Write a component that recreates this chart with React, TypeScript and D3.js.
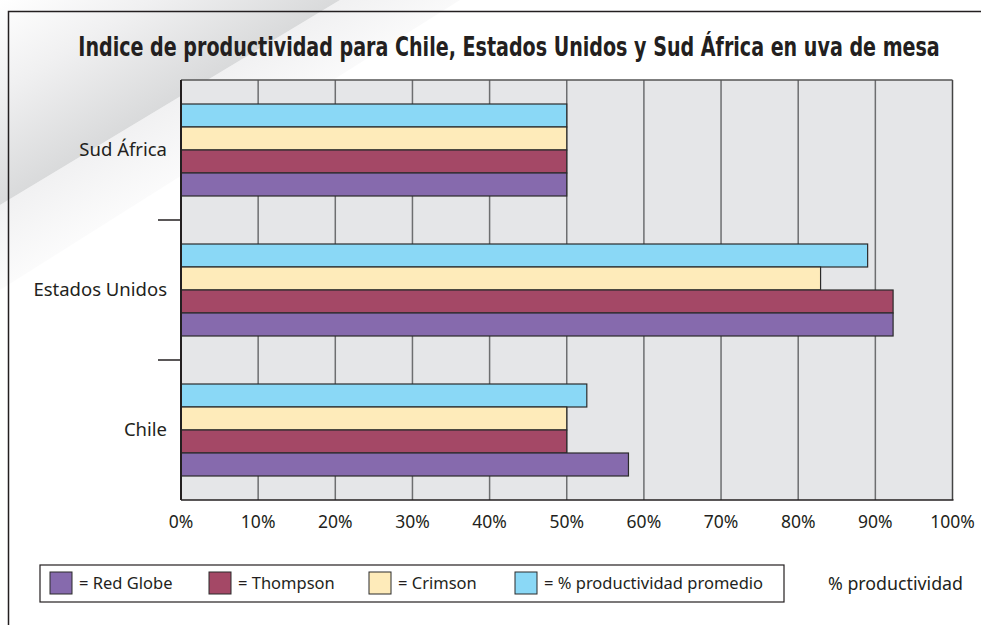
import React, { useLayoutEffect, useRef, useState } from "react";
import * as d3 from "d3";

const categories = ["Sud África", "Estados Unidos", "Chile"];
const seriesNames = ["% productividad promedio", "Crimson", "Thompson", "Red Globe"];
const redGlobe = [50, 92.3, 58];
const thompson = [50, 92.3, 50];
const crimson = [50, 82.9, 50];
const promedio = [50, 89, 52.6];
const xTicks = [0, 10, 20, 30, 40, 50, 60, 70, 80, 90, 100];
const legendItems = ["Red Globe", "Thompson", "Crimson", "% productividad promedio"];
const titleText = "Indice de productividad para Chile, Estados Unidos y Sud África en uva de mesa";

const colors: Record<string, string> = {
  "Red Globe": "#866AAD",
  Thompson: "#A44866",
  Crimson: "#FEEBBA",
  "% productividad promedio": "#8AD8F6",
};

const seriesValues: Record<string, number[]> = {
  "Red Globe": redGlobe,
  Thompson: thompson,
  Crimson: crimson,
  "% productividad promedio": promedio,
};

const W = 981;
const H = 625;
const left = 181;
const right = 952.5;
const top = 80;
const bottom = 500;
const ink = "#231F20";
const font = "'Noto Sans', 'Open Sans', sans-serif";
const titleWidth = 862;

export default function App() {
  const x = d3.scaleLinear().domain([0, 100]).range([left, right]);
  const y = d3.scaleBand<string>().domain(categories).range([top, bottom]).padding(0);
  const inner = d3
    .scaleBand<string>()
    .domain(seriesNames)
    .range([24, y.bandwidth() - 24])
    .padding(0);

  const legendX = [50, 209, 369, 515];

  const titleRef = useRef<SVGTextElement>(null);
  const [sx, setSx] = useState(1);
  useLayoutEffect(() => {
    if (titleRef.current) {
      const w = titleRef.current.getComputedTextLength();
      if (w > 0) setSx(titleWidth / w);
    }
  }, []);

  return (
    <svg
      width={W}
      height={H}
      style={{ position: "absolute", left: 0, top: 0, background: "#fff" }}
    >
      <defs>
        <linearGradient id="sheen" gradientUnits="userSpaceOnUse" x1="0" y1="0" x2="90.6" y2="150.3">
          <stop offset="0" stopColor="#ffffff" />
          <stop offset="0.45" stopColor="#f0f0f1" />
          <stop offset="1" stopColor="#d9dadb" />
        </linearGradient>
        <linearGradient id="sheen2" gradientUnits="userSpaceOnUse" x1="90.6" y1="150.3" x2="142" y2="236">
          <stop offset="0" stopColor="#f1f1f2" />
          <stop offset="1" stopColor="#ffffff" />
        </linearGradient>
      </defs>
      <rect x={0} y={0} width={W} height={H} fill="#fff" />
      <polygon points="340,0 460,0 0,290 0,205" fill="url(#sheen2)" />
      <polygon points="0,0 340,0 0,205" fill="url(#sheen)" />
      {/* frame */}
      <rect x={8.5} y={11.5} width={1100} height={800} fill="none" stroke={ink} strokeWidth={1.5} />

      {/* title */}
      <g transform={`translate(509,56) scale(${sx},1)`}>
        <text
          ref={titleRef}
          x={0}
          y={0}
          textAnchor="middle"
          fontFamily="'Liberation Sans Narrow', 'DejaVu Sans Condensed', sans-serif"
          fontWeight="bold"
          fontSize={26}
          fill={ink}
        >
          {titleText}
        </text>
      </g>

      {/* plot background */}
      <rect x={left} y={top} width={right - left} height={bottom - top} fill="#E5E6E8" />
      {xTicks.slice(1).map((t) => (
        <line
          key={t}
          x1={x(t)}
          x2={x(t)}
          y1={top}
          y2={bottom}
          stroke={t === 100 ? "#444" : "#6d6e70"}
          strokeWidth={1.5}
        />
      ))}
      <line x1={left} x2={right} y1={top} y2={top} stroke="#555" strokeWidth={1.5} />

      {/* bars */}
      {categories.map((c, ci) =>
        seriesNames.map((s) => (
          <rect
            key={c + s}
            x={x(0)}
            y={(y(c) as number) + (inner(s) as number)}
            width={x(seriesValues[s][ci]) - x(0)}
            height={inner.bandwidth()}
            fill={colors[s]}
            stroke="#2b2b2b"
            strokeWidth={1.2}
          />
        ))
      )}

      {/* axes */}
      <line x1={left} x2={left} y1={top} y2={bottom} stroke={ink} strokeWidth={2} />
      <line x1={left} x2={right + 1} y1={bottom} y2={bottom} stroke={ink} strokeWidth={1.5} />
      {categories.slice(1).map((c) => (
        <line
          key={c}
          x1={158}
          x2={left}
          y1={y(c) as number}
          y2={y(c) as number}
          stroke={ink}
          strokeWidth={1.5}
        />
      ))}

      {/* category labels */}
      {categories.map((c) => (
        <text
          key={c}
          x={167}
          y={(y(c) as number) + y.bandwidth() / 2}
          dy="0.35em"
          textAnchor="end"
          fontFamily={font}
          fontSize={18.5}
          fill={ink}
        >
          {c}
        </text>
      ))}

      {/* x tick labels */}
      {xTicks.map((t) => (
        <text
          key={t}
          x={x(t)}
          y={522}
          dy="0.35em"
          textAnchor="middle"
          fontFamily={font}
          fontSize={17.5}
          fill={ink}
        >
          {t}%
        </text>
      ))}

      {/* legend */}
      <rect x={40} y={565} width={744} height={37} fill="#fff" stroke={ink} strokeWidth={1.2} />
      {legendItems.map((s, i) => (
        <g key={s}>
          <rect
            x={legendX[i]}
            y={572}
            width={22}
            height={22}
            fill={colors[s]}
            stroke="#2b2b2b"
            strokeWidth={1}
          />
          <text
            x={legendX[i] + 29}
            y={583.5}
            dy="0.35em"
            fontFamily={font}
            fontSize={16.5}
            fill={ink}
          >
            = {s}
          </text>
        </g>
      ))}
      <text x={828} y={584} dy="0.35em" fontFamily={font} fontSize={17.8} fill={ink}>
        % productividad
      </text>
    </svg>
  );
}
